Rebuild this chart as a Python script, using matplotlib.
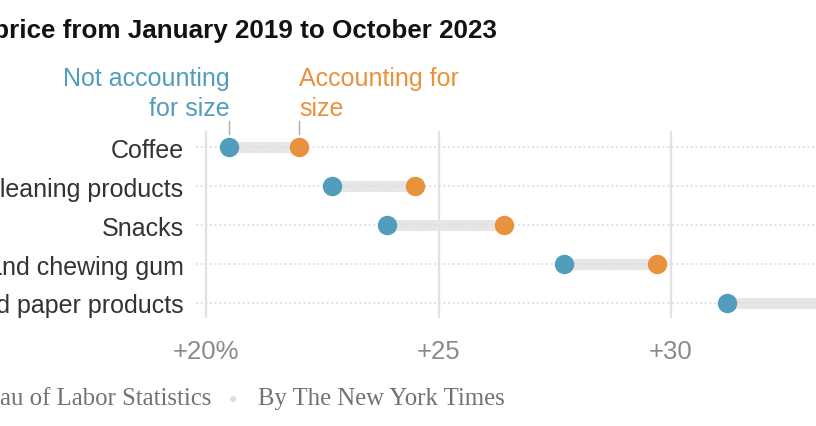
import matplotlib.pyplot as plt

categories = [
    "Coffee",
    "Household cleaning products",
    "Snacks",
    "Candy and chewing gum",
    "Toilet tissue and paper products",
]
not_accounting = [20.5, 22.7, 23.9, 27.7, 31.2]
accounting = [22.0, 24.5, 26.4, 29.7, 34.5]
tick_values = [20, 25, 30]
tick_labels = ["+20%", "+25", "+30"]

BLUE = "#529dbc"
ORANGE = "#e9923d"
W, H = 816, 427

plt.rcParams["font.family"] = ["Liberation Sans", "DejaVu Sans"]

fig = plt.figure(figsize=(W / 100, H / 100), dpi=100)
ax = fig.add_axes([196 / W, 1 - 319 / H, 620 / W, 187 / H])

px_per_unit = 46.5
ax.set_xlim(20 - 10 / px_per_unit, 20 + 610 / px_per_unit)
ax.set_ylim(4 + 15 / 39, -16 / 39)

rows = range(len(categories))
for x in tick_values:
    ax.axvline(x, color="#e2e2e2", lw=1.6, zorder=1)
for y in rows:
    ax.axhline(y, color="#dddddd", lw=1.2, ls=(0, (1.2, 1.6)), zorder=3)
ax.hlines(rows, not_accounting, accounting, color="#e6e6e6", lw=8, zorder=2)
ax.plot(not_accounting, rows, "o", color=BLUE, ms=14, mec="none", zorder=4, clip_on=False)
ax.plot(accounting, rows, "o", color=ORANGE, ms=14, mec="none", zorder=4, clip_on=False)

ax.set_yticks(list(rows), categories)
ax.set_xticks(tick_values, tick_labels)
ax.tick_params(axis="y", length=0, pad=9, labelsize=18, labelcolor="#333333")
ax.tick_params(axis="x", length=0, pad=15, labelsize=18.5, labelcolor="#8a8a8a")
for side in ax.spines.values():
    side.set_visible(False)

# labels for the two series above the first row
ax.plot([not_accounting[0]] * 2, [-0.67, -0.33], color="#aaaaaa", lw=1, clip_on=False)
ax.plot([accounting[0]] * 2, [-0.67, -0.33], color="#aaaaaa", lw=1, clip_on=False)
ax.text(not_accounting[0], -0.7, "Not accounting\nfor size", color=BLUE, fontsize=18,
        ha="right", va="bottom", linespacing=1.3, clip_on=False)
ax.text(accounting[0], -0.7, "Accounting for\nsize", color=ORANGE, fontsize=18,
        ha="left", va="bottom", linespacing=1.3, clip_on=False)

fig.text(497 / W, 1 - 38 / H, "Change in price from January 2019 to October 2023",
         ha="right", va="baseline", fontsize=18.7, fontweight="bold", color="#121212")

foot_y = 1 - 405 / H
serif = ["Liberation Serif", "DejaVu Serif"]
fig.text(211 / W, foot_y, "Source: Bureau of Labor Statistics", ha="right", va="baseline",
         fontsize=17.8, color="#727272", family=serif)
fig.text(233 / W, 1 - 399 / H, "\u25cf", ha="center", va="center", fontsize=10, color="#dddddd")
fig.text(258 / W, foot_y, "By The New York Times", ha="left", va="baseline",
         fontsize=17.8, color="#727272", family=serif)

fig.savefig("out.png", dpi=100)
